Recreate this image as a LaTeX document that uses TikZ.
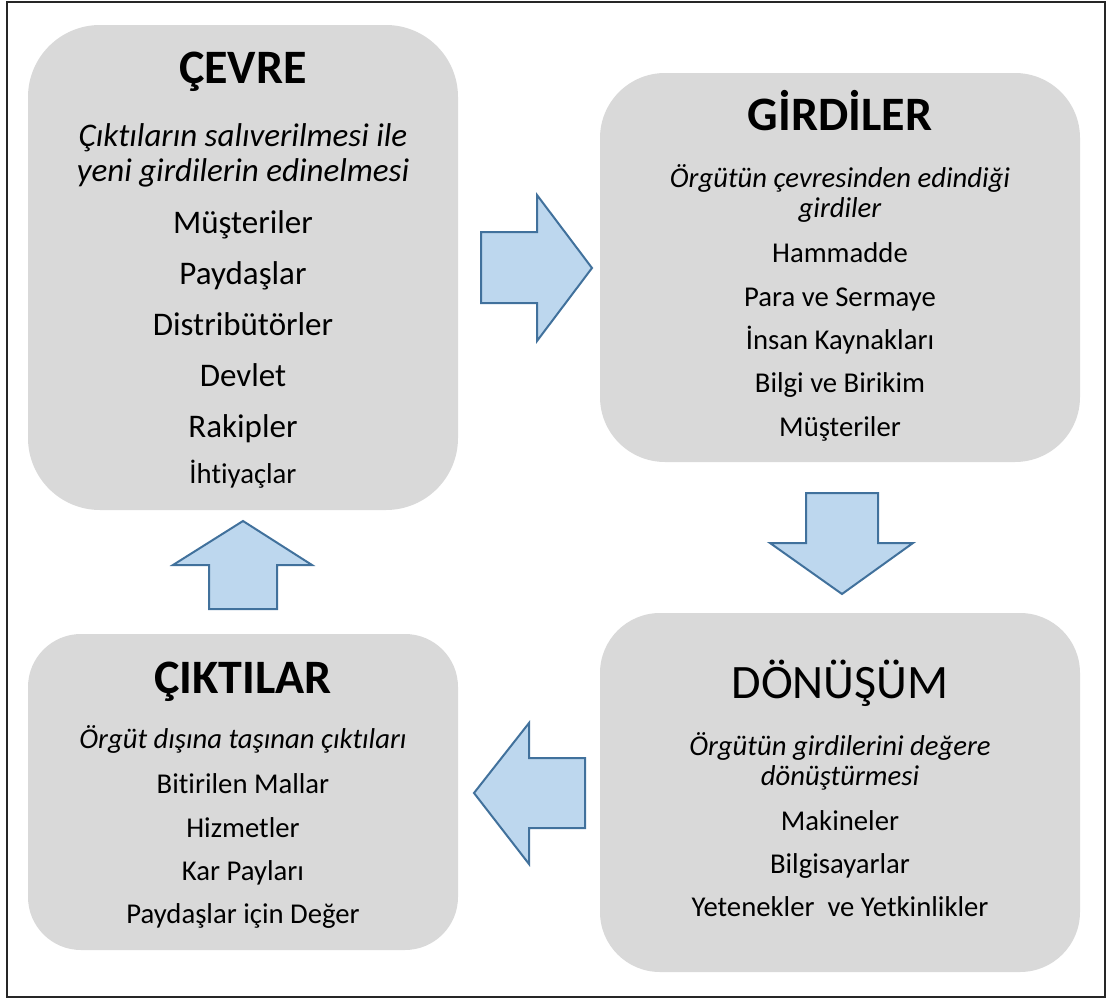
\documentclass[tikz,border=0pt]{standalone}
\usepackage{fontspec}
\setmainfont{Carlito}[RawFeature=-liga]
\definecolor{boxgray}{HTML}{D9D9D9}
\definecolor{arrowfill}{HTML}{BDD7EE}
\definecolor{arrowline}{HTML}{41719C}
\tikzset{
  box/.style={fill=boxgray, draw=none, inner sep=0pt},
  blockarrow/.style={fill=arrowfill, draw=arrowline, line width=2pt, line join=miter},
  title/.style={anchor=base, inner sep=0pt, font=\fontsize{48}{52}\selectfont\bfseries},
  plaintitle/.style={anchor=base, inner sep=0pt, font=\fontsize{48}{52}\selectfont},
  bigsub/.style={anchor=base, inner sep=0pt, font=\fontsize{33}{36}\selectfont\itshape},
  bigitem/.style={anchor=base, inner sep=0pt, font=\fontsize{33}{36}\selectfont},
  sub/.style={anchor=base, inner sep=0pt, font=\fontsize{28.7}{32}\selectfont\itshape},
  item/.style={anchor=base, inner sep=0pt, font=\fontsize{28.7}{32}\selectfont},
}
\begin{document}
\begin{tikzpicture}[x=1pt, y=-1pt]
\useasboundingbox (0,0) rectangle (1112,1001);
% outer frame
\draw[line width=2.5pt, black!85] (7,2) rectangle (1105,997);

% the four boxes
\node[box, rounded corners=72pt, minimum width=430pt, minimum height=485pt] (cevre) at (243,267.5) {};
\node[box, rounded corners=65pt, minimum width=480pt, minimum height=389pt] (girdi) at (840,267.5) {};
\node[box, rounded corners=60pt, minimum width=480pt, minimum height=359pt] (donusum) at (840,792.5) {};
\node[box, rounded corners=53pt, minimum width=430pt, minimum height=316pt] (cikti) at (243,792) {};

% ÇEVRE
\node[title] (cT) at (243,83) {ÇEVRE};
\node[bigsub] (cS1) at (243,146) {Çıktıların salıverilmesi ile};
\node[bigsub] (cS2) at (243,181) {yeni girdilerin edinelmesi};
\node[bigitem] (c1) at (243,233) {Müşteriler};
\node[bigitem] (c2) at (243,284) {Paydaşlar};
\node[bigitem] (c3) at (243,335) {Distribütörler};
\node[bigitem] (c4) at (243,386) {Devlet};
\node[bigitem] (c5) at (243,437) {Rakipler};
\node[item] (c6) at (243,483) {İhtiyaçlar};

% GİRDİLER
\node[title] (gT) at (840,130) {GİRDİLER};
\node[sub] (gS1) at (840,187) {Örgütün çevresinden edindiği};
\node[sub] (gS2) at (840,217) {girdiler};
\node[item] (g1) at (840,262) {Hammadde};
\node[item] (g2) at (840,306) {Para ve Sermaye};
\node[item] (g3) at (840,349) {İnsan Kaynakları};
\node[item] (g4) at (840,392) {Bilgi ve Birikim};
\node[item] (g5) at (840,436) {Müşteriler};

% DÖNÜŞÜM
\node[plaintitle] (dT) at (840,698) {DÖNÜŞÜM};
\node[sub] (dS1) at (840,755) {Örgütün girdilerini değere};
\node[sub] (dS2) at (840,785) {dönüştürmesi};
\node[item] (d1) at (840,830) {Makineler};
\node[item] (d2) at (840,873) {Bilgisayarlar};
\node[item] (d3) at (840,916) {Yetenekler\ \ ve Yetkinlikler};

% ÇIKTILAR
\node[title] (kT) at (243,693) {ÇIKTILAR};
\node[sub] (kS1) at (243,748) {Örgüt dışına taşınan çıktıları};
\node[item] (k1) at (243,793) {Bitirilen Mallar};
\node[item] (k2) at (243,837) {Hizmetler};
\node[item] (k3) at (243,880) {Kar Payları};
\node[item] (k4) at (243,923) {Paydaşlar için Değer};

% block arrows between the stages
\draw[blockarrow] (481,232) -- (537,232) -- (537,195) -- (592,268) -- (537,341) -- (537,303) -- (481,303) -- cycle;
\draw[blockarrow] (806,493) -- (878,493) -- (878,543) -- (913,543) -- (842,594) -- (770,543) -- (806,543) -- cycle;
\draw[blockarrow] (585,758) -- (529,758) -- (529,723) -- (474,793) -- (529,864) -- (529,828) -- (585,828) -- cycle;
\draw[blockarrow] (209,609) -- (209,565) -- (173,565) -- (243,521) -- (312,565) -- (277,565) -- (277,609) -- cycle;
\end{tikzpicture}
\end{document}
